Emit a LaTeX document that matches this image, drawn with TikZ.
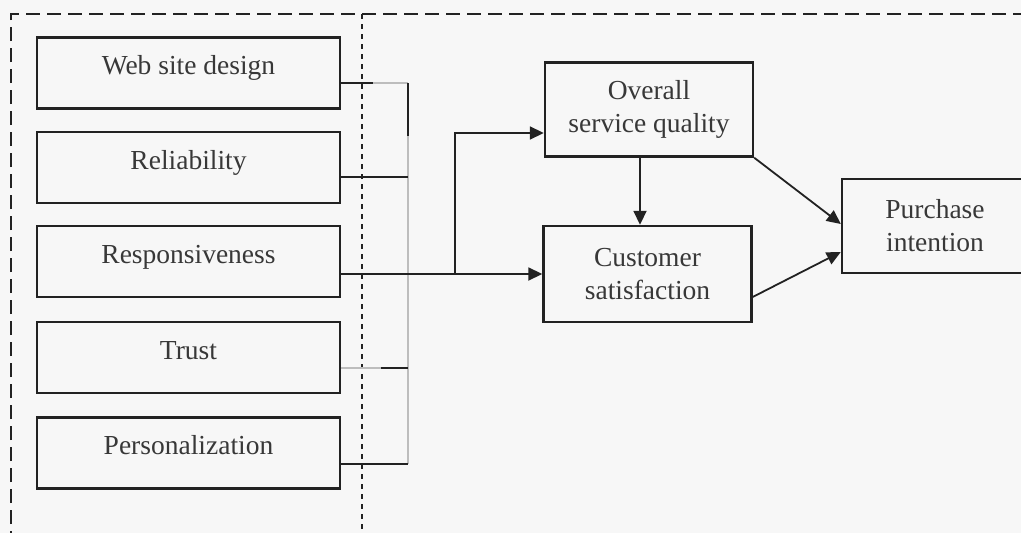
\documentclass[tikz,border=0pt]{standalone}
\usepackage{fontspec}
\setmainfont{Liberation Serif}
\usetikzlibrary{arrows.meta}
\definecolor{paper}{HTML}{F7F7F7}
\definecolor{ink}{HTML}{222222}
\definecolor{faint}{HTML}{BDBDBD}
\begin{document}
\begin{tikzpicture}[x=1pt,y=-1pt,
  box/.style={draw=ink, line width=2.4pt, inner sep=0pt, text=ink!90,
              font=\fontsize{27.5}{33}\selectfont},
  factor/.style={box, minimum width=303pt, minimum height=71pt,
                 text height=18pt, text depth=15pt},
  outcome/.style={box, align=center, minimum width=208pt, minimum height=94pt},
  link/.style={draw=ink, line width=1.8pt},
  faintlink/.style={draw=faint, line width=1.2pt},
  arr/.style={link, -{Triangle[length=14pt,width=13pt]}},
  frame/.style={draw=ink, line width=2.4pt, dash pattern=on 14pt off 7pt},
  divider/.style={draw=ink, line width=2pt, dash pattern=on 5pt off 5pt},
]
% paper and page extent
\fill[paper] (0,0) rectangle (1021,533);
\clip (0,0) rectangle (1021,533);

% outer dashed frame and dotted divider
\draw[frame] (11,545) -- (11,14) -- (1040,14);
\draw[divider] (362,14) -- (362,545);

% quality dimensions
\node[factor] (web)   at (188.5,73)    {Web site design};
\node[factor] (rel)   at (188.5,167.5) {Reliability};
\node[factor] (resp)  at (188.5,261.5) {Responsiveness};
\node[factor] (trust) at (188.5,357.5) {Trust};
\node[factor] (pers)  at (188.5,453)   {Personalization};

% outcome constructs
\node[outcome] (osq) at (649,109.5) {Overall\\service quality};
\node[outcome, minimum height=96pt] (cs) at (647.5,274) {Customer\\satisfaction};
\node[outcome, minimum width=186pt] (pi) at (935,226) {Purchase\\intention};

% bracket collecting the five dimensions
\coordinate (jw) at (408,83);
\coordinate (jm) at (408,136);
\coordinate (jr) at (408,177);
\coordinate (jt) at (408,368);
\coordinate (jp) at (408,464);
\draw[link] (web.east |- jw) -- ++(32,0);
\draw[faintlink] (web.east |- jw) ++(32,0) -- (jw);
\draw[link] (jw) -- (jm);
\draw[faintlink] (jm) -- (jr) -- (jp);
\draw[link] (rel.east |- jr) -- (jr);
\draw[faintlink] (trust.east |- jt) -- ++(40,0);
\draw[link] (trust.east |- jt) ++(40,0) -- (jt);
\draw[link] (pers.east |- jp) -- (jp);

% paths into the outcome constructs
\coordinate (up) at (455,0);
\coordinate (osqin) at ([yshift=-23.5pt]osq.west);
\coordinate (split) at (cs.west -| up);
\draw[arr] (resp.east |- cs.west) -- (cs.west);
\draw[arr] (split) -- (split |- osqin) -- (osqin);

\coordinate (vx) at (640,0);
\draw[arr] (osq.south -| vx) -- (cs.north -| vx);
\draw[arr] (osq.south east) -- ([yshift=2pt]pi.west);
\draw[arr] ([yshift=-23pt]cs.east) -- ([yshift=-26pt]pi.west);
\end{tikzpicture}
\end{document}
